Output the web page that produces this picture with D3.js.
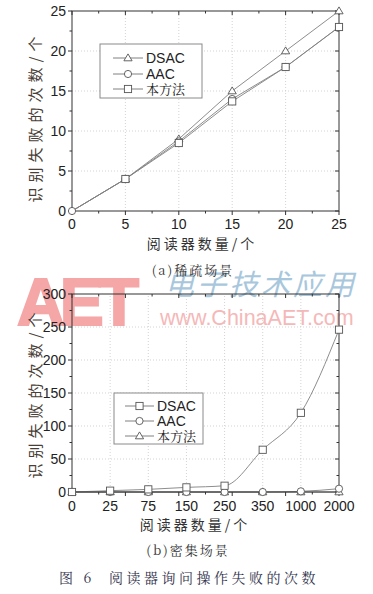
<!DOCTYPE html>
<html><head><meta charset="utf-8">
<script src="https://cdn.jsdelivr.net/npm/d3@7"></script>
<style>body{margin:0;background:#fff}svg{display:block}</style>
</head><body>
<svg id="c" width="373" height="594"></svg>
<script>
// ---- data: chart (a) sparse scenario ----
const xA = [0, 5, 10, 15, 20, 25];
const aDSAC = [0, 4, 9, 15, 20, 25];
const aAAC  = [0, 4, 8.7, 14, 18, 23];
const aOurs = [0, 4, 8.5, 13.7, 18, 23];
const yTicksA = [0, 5, 10, 15, 20, 25];
// ---- data: chart (b) dense scenario ----
const catsB = ["0", "25", "75", "150", "250", "350", "1000", "2000"];
const bDSAC = [0, 2, 4, 7, 9.5, 64, 120, 246];
const bAAC  = [0, 0, 0, 0, 0, 0, 1, 5];
const bOurs = [0, 0, 0, 0, 0, 0, 0, 0];
const yTicksB = [0, 50, 100, 150, 200, 250, 300];
const legendA = ["DSAC", "AAC", "本方法"];
const legendB = ["DSAC", "AAC", "本方法"];

const svg = d3.select("#c");
const LINE = "#808080", MARK = "#555", AX = "#333";
const tickFont = "'Liberation Sans', Arial, sans-serif";
const cjk = "'Noto Sans CJK SC', sans-serif";
const serif = "'Noto Serif CJK SC','Liberation Serif', serif";

// watermark (behind chart b)
const wm = svg.append("g");
wm.append("text").attr("x", 17).attr("y", 325).attr("font-family", tickFont).attr("font-size", 66)
  .attr("font-weight", "bold").attr("fill", "#f5a6a6").attr("stroke", "#f5a6a6").attr("stroke-width", 2)
  .attr("letter-spacing", -5).text("AET");
wm.append("text").attr("x", 160).attr("y", 325).attr("font-family", tickFont).attr("font-size", 21.5)
  .attr("fill", "#f5b8b8").text("www.ChinaAET.com");
wm.append("text").attr("x", 165).attr("y", 295).attr("font-family", cjk).attr("font-size", 29)
  .attr("font-style", "italic").attr("fill", "#a9c7dc").attr("letter-spacing", 3).text("电子技术应用");

function marker(g, type, x, y) {
  const s = 3.6;
  if (type === "tri") {
    g.append("path").attr("d", `M${x},${y - s - 0.5}L${x + s + 0.5},${y + s - 0.8}L${x - s - 0.5},${y + s - 0.8}Z`)
      .attr("fill", "#fff").attr("stroke", MARK).attr("stroke-width", 0.9);
  } else if (type === "circ") {
    g.append("circle").attr("cx", x).attr("cy", y).attr("r", s).attr("fill", "#fff").attr("stroke", MARK).attr("stroke-width", 0.9);
  } else {
    g.append("rect").attr("x", x - s).attr("y", y - s).attr("width", 2 * s).attr("height", 2 * s)
      .attr("fill", "#fff").attr("stroke", MARK).attr("stroke-width", 0.9);
  }
}

function frame(g, x0, x1, y0, y1, yScale, yTicks, yMinorStep, yMax) {
  yTicks.forEach(t => {
    if (t === 0 || t === yMax) return;
    g.append("line").attr("x1", x0).attr("x2", x1).attr("y1", yScale(t)).attr("y2", yScale(t))
      .attr("stroke", "#c8c8c8").attr("stroke-width", 0.8).attr("stroke-dasharray", "1,2");
  });
}

function axes(g, x0, x1, y0, y1, yScale, yTicks, yMinorStep, yMax) {
  g.append("rect").attr("x", x0).attr("y", y1).attr("width", x1 - x0).attr("height", y0 - y1)
    .attr("fill", "none").attr("stroke", AX).attr("stroke-width", 1);
  const xs = d3.scaleLinear().domain([0, 10]).range([x0, x1]);
  d3.range(0, 11).forEach(i => {
    const L = i % 2 === 0 ? 4 : 2.5;
    const px = xs(i);
    g.append("line").attr("x1", px).attr("x2", px).attr("y1", y0).attr("y2", y0 + L).attr("stroke", AX);
    g.append("line").attr("x1", px).attr("x2", px).attr("y1", y1).attr("y2", y1 + L).attr("stroke", AX);
  });
  for (let v = 0; v <= yMax + 1e-6; v += yMinorStep) {
    const major = yTicks.includes(v);
    const L = major ? 4 : 2.5;
    const py = yScale(v);
    g.append("line").attr("x1", x0 - L).attr("x2", x0).attr("y1", py).attr("y2", py).attr("stroke", AX);
    g.append("line").attr("x1", x1 - L).attr("x2", x1).attr("y1", py).attr("y2", py).attr("stroke", AX);
  }
  yTicks.forEach(t => {
    g.append("text").attr("x", x0 - 6).attr("y", yScale(t) + 5).attr("text-anchor", "end")
      .attr("font-family", tickFont).attr("font-size", 14).attr("fill", "#222").text(t);
  });
}

function legend(g, x, y, w, h, names, types, lineX0, lineX1, textX, rowY) {
  g.append("rect").attr("x", x).attr("y", y).attr("width", w).attr("height", h)
    .attr("fill", "#fff").attr("stroke", "#8a8a8a").attr("stroke-width", 1);
  names.forEach((n, i) => {
    const yy = rowY[i];
    g.append("line").attr("x1", lineX0).attr("x2", lineX1).attr("y1", yy).attr("y2", yy).attr("stroke", LINE);
    marker(g, types[i], (lineX0 + lineX1) / 2, yy);
    g.append("text").attr("x", textX).attr("y", yy + 5)
      .attr("font-family", n === "本方法" ? serif : tickFont).attr("font-size", n === "本方法" ? 13 : 14)
      .attr("fill", "#222").text(n);
  });
}

// ================= Chart (a) =================
{
  const g = svg.append("g");
  const x0 = 72, x1 = 339, y0 = 211, y1 = 11;
  const x = d3.scaleLinear().domain([0, 25]).range([x0, x1]);
  const y = d3.scaleLinear().domain([0, 25]).range([y0, y1]);
  frame(g, x0, x1, y0, y1, y, yTicksA, 2.5, 25);
  xA.forEach(v => {
    if (v === 0 || v === 25) return;
    g.append("line").attr("x1", x(v)).attr("x2", x(v)).attr("y1", y0).attr("y2", y1)
      .attr("stroke", "#c8c8c8").attr("stroke-width", 0.8).attr("stroke-dasharray", "1,2");
  });
  const line = d3.line().x((d, i) => x(xA[i])).y(d => y(d));
  const series = [[aDSAC, "tri"], [aAAC, "circ"], [aOurs, "sq"]];
  series.forEach(([s]) => g.append("path").attr("d", line(s)).attr("fill", "none").attr("stroke", LINE).attr("stroke-width", 0.9));
  axes(g, x0, x1, y0, y1, y, yTicksA, 2.5, 25);
  series.forEach(([s, t]) => s.forEach((v, i) => { if (i > 0) marker(g, t, x(xA[i]), y(v)); }));
  marker(g, "circ", x(0), y(0));
  xA.forEach(v => g.append("text").attr("x", x(v)).attr("y", 229).attr("text-anchor", "middle")
    .attr("font-family", tickFont).attr("font-size", 14).attr("fill", "#222").text(v));
  legend(g, 100, 44, 102, 54, legendA, ["tri", "circ", "sq"], 113, 143, 146, [58, 74, 89]);
  g.append("text").attr("x", 202).attr("y", 249).attr("text-anchor", "middle").attr("font-family", cjk)
    .attr("font-size", 14).attr("letter-spacing", 3).attr("fill", "#333").text("阅读器数量/个");
  g.append("text").attr("transform", "translate(41,117) rotate(-90)").attr("text-anchor", "middle").attr("font-family", cjk)
    .attr("font-size", 15).attr("letter-spacing", 5).attr("fill", "#4a3f38").text("识别失败的次数/个");
  g.append("text").attr("x", 193).attr("y", 275).attr("text-anchor", "middle").attr("font-family", serif)
    .attr("font-size", 13).attr("letter-spacing", 2).attr("fill", "#333").text("(a)稀疏场景");
}

// ================= Chart (b) =================
{
  const g = svg.append("g");
  const x0 = 72, x1 = 339, y0 = 492, y1 = 294;
  const x = d3.scalePoint().domain(catsB).range([x0, x1]);
  const y = d3.scaleLinear().domain([0, 300]).range([y0, y1]);
  frame(g, x0, x1, y0, y1, y, yTicksB, 25, 300);
  catsB.forEach((c, i) => {
    if (i === 0 || i === catsB.length - 1) return;
    g.append("line").attr("x1", x(c)).attr("x2", x(c)).attr("y1", y0).attr("y2", y1)
      .attr("stroke", "#c8c8c8").attr("stroke-width", 0.8).attr("stroke-dasharray", "1,2");
  });
  const line = d3.line().x((d, i) => x(catsB[i])).y(d => y(d)).curve(d3.curveMonotoneX);
  const series = [[bDSAC, "sq"], [bAAC, "circ"], [bOurs, "tri"]];
  series.forEach(([s]) => g.append("path").attr("d", line(s)).attr("fill", "none").attr("stroke", LINE).attr("stroke-width", 0.9));
  axes(g, x0, x1, y0, y1, y, yTicksB, 25, 300);
  series.slice().reverse().forEach(([s, t]) => s.forEach((v, i) => marker(g, t, x(catsB[i]), y(v))));
  catsB.forEach(c => g.append("text").attr("x", x(c)).attr("y", 511).attr("text-anchor", "middle")
    .attr("font-family", tickFont).attr("font-size", 14).attr("fill", "#222").text(c));
  legend(g, 114, 393, 89, 51, legendB, ["sq", "circ", "tri"], 125, 154, 157, [406, 421, 436]);
  g.append("text").attr("x", 195).attr("y", 530).attr("text-anchor", "middle").attr("font-family", cjk)
    .attr("font-size", 14).attr("letter-spacing", 3).attr("fill", "#333").text("阅读器数量/个");
  g.append("text").attr("transform", "translate(41,393) rotate(-90)").attr("text-anchor", "middle").attr("font-family", cjk)
    .attr("font-size", 15).attr("letter-spacing", 5).attr("fill", "#4a3f38").text("识别失败的次数/个");
  g.append("text").attr("x", 188).attr("y", 555).attr("text-anchor", "middle").attr("font-family", serif)
    .attr("font-size", 13).attr("letter-spacing", 2).attr("fill", "#333").text("(b)密集场景");
  g.append("text").attr("x", 189).attr("y", 583).attr("text-anchor", "middle").attr("font-family", serif)
    .attr("font-size", 14).attr("letter-spacing", 3.5).attr("fill", "#33334d").attr("xml:space", "preserve")
    .text("图 6  阅读器询问操作失败的次数");
}
</script>
</body></html>
